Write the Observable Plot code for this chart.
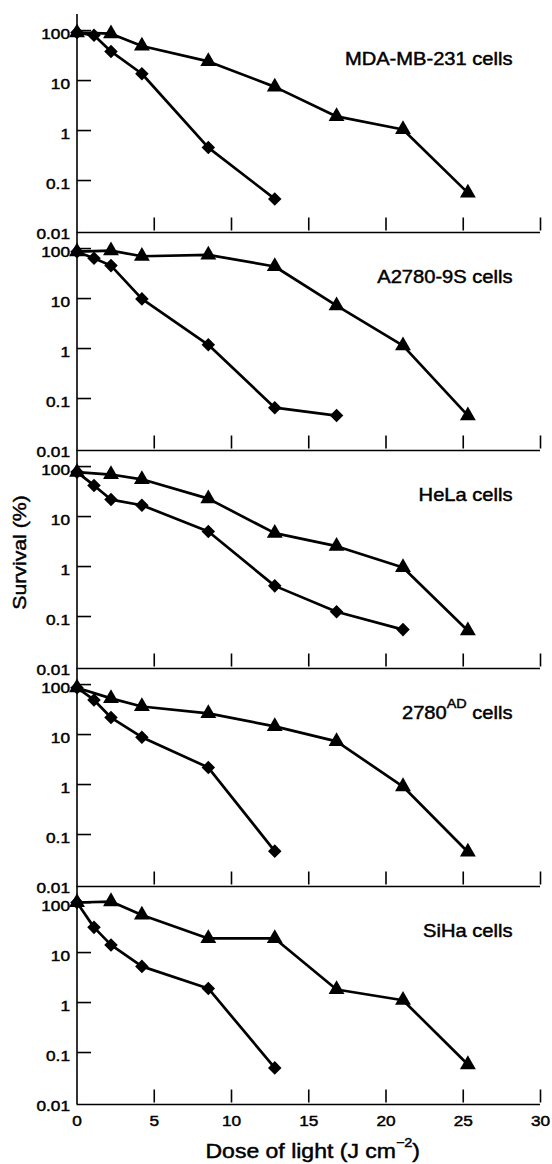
<!DOCTYPE html>
<html>
<head>
<meta charset="utf-8">
<script src="https://cdn.jsdelivr.net/npm/d3@7"></script>
<script src="https://cdn.jsdelivr.net/npm/@observablehq/plot@0.6"></script>
<style>
  body { margin: 0; background: #fff; }
  #chart svg { display: block; }
</style>
</head>
<body>
<div id="chart"></div>
<script>
// ---- data ----
const cells = ["MDA-MB-231 cells", "A2780-9S cells", "HeLa cells", "2780^{AD} cells", "SiHa cells"];
const doseTriangle = [0, 2.2, 4.2, 8.5, 12.8, 16.8, 21.1, 25.3];
const doseDiamond = [0, 1.1, 2.2, 4.2, 8.5, 12.8, 16.8, 21.1];

const mdaTriangle = [100, 95, 54, 26.5, 8.2, 2.1, 1.15, 0.062];
const mdaDiamond = [100, 88, 42, 15, 0.5, 0.047];
const a2780Triangle = [95, 100, 77, 82, 48, 7.9, 1.25, 0.05];
const a2780Diamond = [95, 70, 50, 10.8, 1.3, 0.072, 0.05];
const helaTriangle = [85, 76, 61, 25, 5.1, 2.8, 1.05, 0.057];
const helaDiamond = [85, 46, 24, 18.5, 5.5, 0.45, 0.137, 0.06];
const ad2780Triangle = [95, 58, 40, 29, 16, 8, 1.0, 0.049];
const ad2780Diamond = [95, 54, 24, 9.7, 2.4, 0.051];
const sihaTriangle = [110, 115, 62, 21, 21, 2.0, 1.22, 0.063];
const sihaDiamond = [110, 35, 15.6, 5.8, 2.1, 0.054];

const xTicks = [0, 5, 10, 15, 20, 25, 30];
const yTicks = [0.01, 0.1, 1, 10, 100];
const xLabel = "Dose of light (J cm^{−2})";
const yLabel = "Survival (%)";

// ---- tables built from the arrays ----
const triangleSeries = [mdaTriangle, a2780Triangle, helaTriangle, ad2780Triangle, sihaTriangle];
const diamondSeries = [mdaDiamond, a2780Diamond, helaDiamond, ad2780Diamond, sihaDiamond];
const rows = [];
cells.forEach((cell, i) => {
  triangleSeries[i].forEach((s, j) => rows.push({cell, shape: "triangle", dose: doseTriangle[j], survival: s}));
  diamondSeries[i].forEach((s, j) => rows.push({cell, shape: "diamond", dose: doseDiamond[j], survival: s}));
});

// ---- layout ----
const W = 552, H = 1164, mL = 76.5, mR = 12, mT = 12, mB = 58.7;
const axisW = 1.6;
const xTickLen = 13, yTickLen = 14;

const svg = Plot.plot({
  width: W, height: H,
  marginLeft: mL, marginRight: mR, marginTop: mT, marginBottom: mB,
  style: {fontFamily: "'Liberation Sans', Arial, Helvetica, sans-serif", fontSize: "15px", color: "black", background: "white"},
  x: {domain: [0, 30], label: null},
  y: {type: "log", domain: [0.01, 230], label: null},
  fy: {domain: cells, padding: 0, axis: null, label: null},
  marks: [
    Plot.ruleX([0], {strokeWidth: axisW}),
    Plot.ruleY([0.01], {strokeWidth: axisW}),
    Plot.axisY({ticks: yTicks, tickSize: 0, tickPadding: 7, tickFormat: d => String(d), label: null, facetAnchor: null, dy: 2}),
    Plot.axisX({ticks: xTicks, tickSize: 0, tickPadding: 11, tickFormat: d => String(d), label: null, facetAnchor: "bottom"}),
    Plot.line(rows, {x: "dose", y: "survival", z: "shape", fy: "cell", stroke: "black", strokeWidth: 2.7}),
    Plot.dot(rows.filter(d => d.shape === "triangle"), {x: "dose", y: "survival", fy: "cell", symbol: "triangle", r: 5.9, fill: "black", stroke: "none"}),
    Plot.dot(rows.filter(d => d.shape === "diamond"), {x: "dose", y: "survival", fy: "cell", symbol: "diamond2", r: 6.1, fill: "black", stroke: "none"}),
    Plot.text(cells.map(c => ({cell: c})), {fy: "cell", text: "cell", frameAnchor: "top-right", dx: -28, dy: 44.5, textAnchor: "end", lineAnchor: "middle", fontSize: 17.5, ariaLabel: "panel-label"}),
    Plot.text([{cell: cells[2], label: yLabel}], {fy: "cell", text: "label", frameAnchor: "left", dx: -57, dy: -7, rotate: -90, textAnchor: "middle", lineAnchor: "middle", fontSize: 18.5, ariaLabel: "y-title"}),
    Plot.text([{cell: cells[4], label: xLabel}], {fy: "cell", text: "label", frameAnchor: "bottom", dx: 4, dy: 47.5, textAnchor: "middle", lineAnchor: "middle", fontSize: 20, ariaLabel: "x-title"})
  ]
});
document.getElementById("chart").append(svg);

const NS = "http://www.w3.org/2000/svg";

// ---- superscripts written as ^{...} ----
svg.querySelectorAll("text").forEach(t => {
  const s = t.textContent;
  const m = s.match(/^(.*)\^\{(.*?)\}(.*)$/);
  if (!m) return;
  const g = t.closest("g[aria-label]");
  const isTitle = g && g.getAttribute("aria-label") === "x-title";
  const supSize = isTitle ? 14 : 12.5;
  const rise = isTitle ? 16 : 11;
  t.textContent = "";
  const a = document.createElementNS(NS, "tspan"); a.textContent = m[1]; t.appendChild(a);
  const b = document.createElementNS(NS, "tspan"); b.textContent = m[2];
  b.setAttribute("font-size", supSize); b.setAttribute("dy", -rise); t.appendChild(b);
  const c = document.createElementNS(NS, "tspan"); c.textContent = m[3]; c.setAttribute("dy", rise); t.appendChild(c);
});

// ---- horizontal widening and slight weight of the lettering (the reference type is wide and heavy) ----
svg.querySelectorAll("text").forEach(t => {
  const g = t.closest("g[aria-label]");
  const lab = g ? g.getAttribute("aria-label") : "";
  const k = lab === "panel-label" ? 1.26 : lab === "x-title" ? 1.2 : lab === "y-title" ? 1.17 : 1.15;
  const x = +t.getAttribute("x") || 0, y = +t.getAttribute("y") || 0;
  let tr = t.getAttribute("transform") || "";
  if (x || y) { t.removeAttribute("x"); t.removeAttribute("y"); tr += ` translate(${x},${y})`; }
  t.setAttribute("transform", `${tr} scale(${k},1)`);
  t.setAttribute("stroke", "black");
  t.setAttribute("stroke-width", "0.45");
});

// ---- inward axis ticks, placed with the plot's own x, y and fy scales ----
try {
  const xs = svg.scale("x"), ys = svg.scale("y"), fys = svg.scale("fy");
  const f0 = fys.apply(cells[0]);
  const gT = document.createElementNS(NS, "g");
  gT.setAttribute("aria-label", "inward ticks");
  const addLine = (x1, y1, x2, y2) => {
    const l = document.createElementNS(NS, "line");
    l.setAttribute("x1", x1); l.setAttribute("y1", y1);
    l.setAttribute("x2", x2); l.setAttribute("y2", y2);
    l.setAttribute("stroke", "black");
    l.setAttribute("stroke-width", axisW);
    gT.appendChild(l);
  };
  cells.forEach(cell => {
    const off = fys.apply(cell) - f0;
    const yb = ys.apply(yTicks[0]) + off + 0.5;
    xTicks.slice(1).forEach(t => {
      const px = xs.apply(t) + 0.5;
      addLine(px, yb, px, yb - xTickLen);
    });
    const x0 = xs.apply(xTicks[0]) + 0.5;
    yTicks.slice(1).forEach(t => {
      const py = ys.apply(t) + off + 0.5;
      addLine(x0, py, x0 + yTickLen, py);
    });
  });
  svg.appendChild(gT);
} catch (e) {
  console.error(e);
}
</script>
</body>
</html>
